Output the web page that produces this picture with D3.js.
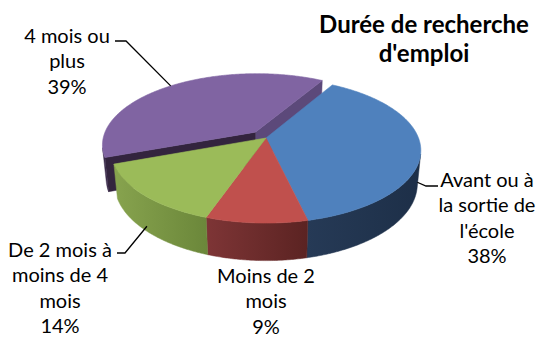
<!DOCTYPE html>
<html>
<head>
<meta charset="utf-8">
<script src="https://cdn.jsdelivr.net/npm/d3@7/dist/d3.min.js"></script>
<style>
  html, body { margin: 0; padding: 0; background: #ffffff; }
  svg { display: block; }
  text { font-family: Lato, "Noto Sans", sans-serif; fill: #000; }
</style>
</head>
<body>
<svg id="chart" width="536" height="338"></svg>
<script>
// ---- data ----
const categories = ["Avant ou à la sortie de l'école", "Moins de 2 mois", "De 2 mois à moins de 4 mois", "4 mois ou plus"];
const labelLines = [["Avant ou à", "la sortie de", "l'école"], ["Moins de 2", "mois"], ["De 2 mois à", "moins de 4", "mois"], ["4 mois ou", "plus"]];
const values = [38, 9, 14, 39];
const percentLabels = ["38%", "9%", "14%", "39%"];
const explode = [0, 0, 0, 0.11];
const titleLines = ["Durée de recherche", "d'emploi"];

// ---- styling ----
const topColors = ["#4f81bd", "#c0504d", "#9bbb59", "#8064a2"];
const wallColors = [["#263a56", "#1d2f48"], ["#7e3536", "#5b2322"], ["#87a34e", "#6b873a"], ["#3c2c4c", "#3c2c4c"]];
const faceColors = { start: "#33243e", end: "#5c497a" };

// ---- 3D view ----
const W = 536, H = 338;
const cx = 266, cy = 138;      // screen position of the pie centre
const K = 152.5;               // radius in px
const tilt = 27.5 * Math.PI / 180;
const camDist = 5.15;          // perspective distance, in radii
const thick = 0.25;            // pie thickness, in radii
const sinT = Math.sin(tilt), cosT = Math.cos(tilt);

function project(X, Y, Z) {
  const depth = Z * cosT - Y * sinT;
  const s = camDist / (camDist + depth);
  return [cx + K * X * s, cy - K * (Z * sinT + Y * cosT) * s];
}

const svg = d3.select("#chart");
const defs = svg.append("defs");
const line = d3.line();

const pie = d3.pie().sort(null).value(d => d)
  .startAngle(30 * Math.PI / 180)
  .endAngle(30 * Math.PI / 180 + 2 * Math.PI);
const arcs = pie(values);

// the outer wall faces the viewer where cos(theta) < -1/(D cos tilt)
const visLim = Math.acos(-1 / (camDist * cosT));
const visA = visLim, visB = 2 * Math.PI - visLim;

const slices = arcs.map((a, i) => {
  const mid = (a.startAngle + a.endAngle) / 2;
  const off = { x: explode[i] * Math.sin(mid), z: explode[i] * Math.cos(mid) };
  const rim = (t, Y) => project(Math.sin(t) + off.x, Y, Math.cos(t) + off.z);
  const centre = Y => project(off.x, Y, off.z);
  return { i, a0: a.startAngle, a1: a.endAngle, mid, rim, centre };
});

function arcPts(s, t0, t1, Y) {
  const n = Math.max(2, Math.ceil(Math.abs(t1 - t0) / 0.01));
  return d3.range(n + 1).map(k => s.rim(t0 + (t1 - t0) * k / n, Y));
}

function drawWall(s) {
  // visible part of the curved side, taking wrap-around into account
  let t0 = s.a0, t1 = s.a1;
  const segs = [];
  [0, 2 * Math.PI].forEach(shift => {
    const lo = Math.max(t0, visA + shift), hi = Math.min(t1, visB + shift);
    if (hi > lo) segs.push([lo, hi]);
  });
  segs.forEach(([lo, hi], k) => {
    const top = arcPts(s, lo, hi, 0);
    const bot = arcPts(s, hi, lo, -thick);
    const pts = top.concat(bot);
    const xs = pts.map(p => p[0]);
    const id = `wall${s.i}_${k}`;
    const g = defs.append("linearGradient").attr("id", id)
      .attr("gradientUnits", "userSpaceOnUse")
      .attr("x1", d3.min(xs)).attr("x2", d3.max(xs)).attr("y1", 0).attr("y2", 0);
    g.append("stop").attr("offset", 0).attr("stop-color", wallColors[s.i][0]);
    g.append("stop").attr("offset", 1).attr("stop-color", wallColors[s.i][1]);
    svg.append("path").attr("d", line(pts) + "Z")
      .attr("fill", `url(#${id})`).attr("stroke", `url(#${id})`).attr("stroke-width", 0.5);
  });
}

function drawFace(s, t, color) {
  const pts = [s.centre(0), s.rim(t, 0), s.rim(t, -thick), s.centre(-thick)];
  svg.append("path").attr("d", line(pts) + "Z")
    .attr("fill", color).attr("stroke", color).attr("stroke-width", 0.5);
}

function drawTop(s) {
  const pts = [s.centre(0)].concat(arcPts(s, s.a0, s.a1, 0));
  svg.append("path").attr("d", line(pts) + "Z")
    .attr("fill", topColors[s.i]).attr("stroke", topColors[s.i]).attr("stroke-width", 0.6);
}

// exploded slice sits behind the others: draw it first
const exploded = slices.filter(s => explode[s.i] > 0);
const flat = slices.filter(s => explode[s.i] === 0);

exploded.forEach(s => {
  drawFace(s, s.a1, faceColors.end);
  drawFace(s, s.a0, faceColors.start);
  drawWall(s);
  drawTop(s);
});
flat.forEach(drawWall);
flat.forEach(drawTop);

// ---- data labels with leader lines ----
const labelLayout = [
  { x: 487, y: 187, anchorY: -thick, leader: [[426, 186], [438, 186]] },
  { x: 266, y: 283, anchorY: null, leader: null },
  { x: 60,  y: 257, anchorY: -thick * 0.85, leader: [[125, 253], [117, 253]] },
  { x: 67,  y: 43,  anchorY: 0, leader: [[126, 41], [115, 41]] }
];
const lh = 25.3;

slices.forEach(s => {
  const L = labelLayout[s.i];
  if (L.leader) {
    const anchor = s.rim(s.mid, L.anchorY);
    svg.append("path")
      .attr("d", line([anchor].concat(L.leader)))
      .attr("fill", "none").attr("stroke", "#000").attr("stroke-width", 1.3);
  }
  const lines = labelLines[s.i].concat([percentLabels[s.i]]);
  const t = svg.append("text")
    .attr("text-anchor", "middle")
    .attr("font-size", 20);
  lines.forEach((txt, k) => {
    t.append("tspan").attr("x", L.x).attr("y", L.y + k * lh).text(txt);
  });
});

// ---- title ----
const title = svg.append("text").attr("text-anchor", "middle")
  .attr("font-size", 24).attr("font-weight", "bold");
titleLines.forEach((txt, k) => {
  title.append("tspan").attr("x", 424).attr("y", 33 + k * 29).text(txt);
});
</script>
</body>
</html>
